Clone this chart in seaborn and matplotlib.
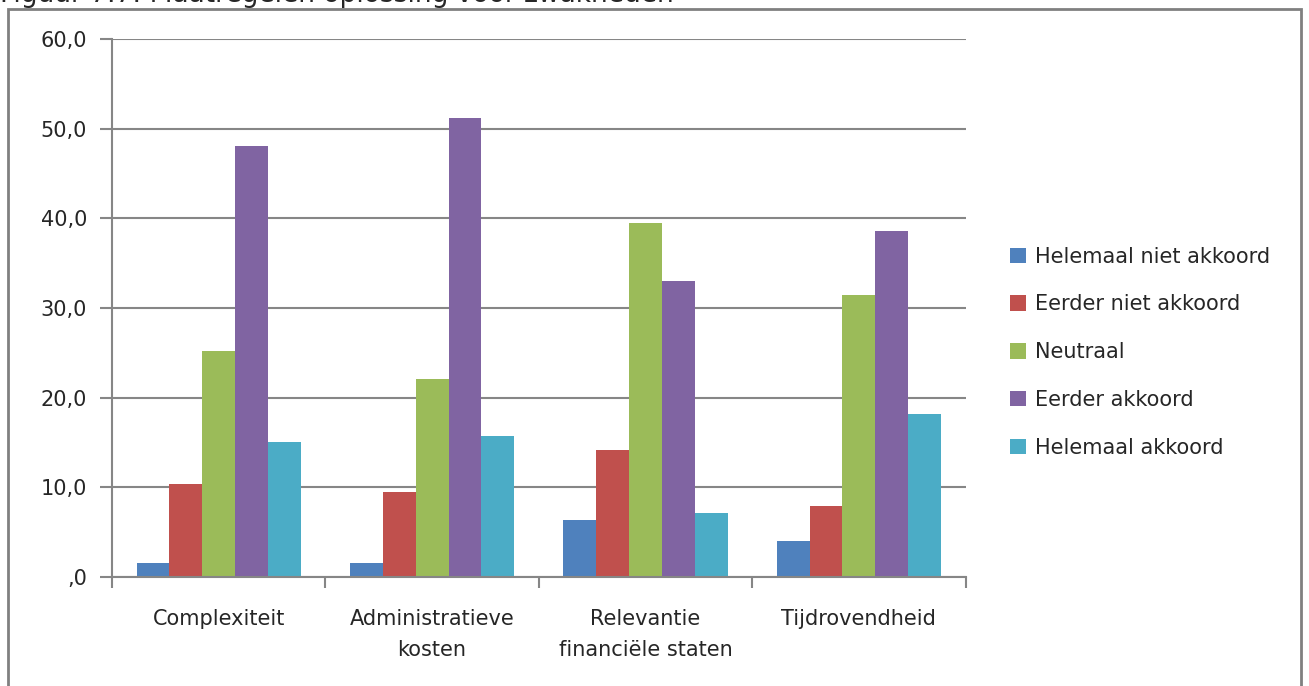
import pandas as pd
import matplotlib.pyplot as plt
import seaborn as sns
from matplotlib.patches import Rectangle

# Data (percentages)
categories = ['Complexiteit', 'Administratieve\nkosten', 'Relevantie\nfinanciële staten', 'Tijdrovendheid']
answers = ['Helemaal niet akkoord', 'Eerder niet akkoord', 'Neutraal', 'Eerder akkoord', 'Helemaal akkoord']
helemaal_niet = [1.6, 1.6, 6.4, 4.0]
eerder_niet = [10.4, 9.5, 14.2, 7.9]
neutraal = [25.2, 22.1, 39.5, 31.4]
eerder_akkoord = [48.1, 51.2, 33.0, 38.6]
helemaal_akkoord = [15.1, 15.7, 7.1, 18.2]
y_ticks = [0, 10, 20, 30, 40, 50, 60]
y_labels = [',0', '10,0', '20,0', '30,0', '40,0', '50,0', '60,0']
colors = ['#4f81bd', '#c0504d', '#9bbb59', '#8064a2', '#4bacc6']

rows = []
for answer, vals in zip(answers, [helemaal_niet, eerder_niet, neutraal, eerder_akkoord, helemaal_akkoord]):
    for cat, v in zip(categories, vals):
        rows.append({'Categorie': cat, 'Antwoord': answer, 'Percentage': v})
df = pd.DataFrame(rows)

sns.set_style('white')
plt.rcParams['font.family'] = ['DejaVu Sans']

fig = plt.figure(figsize=(13.09, 6.86), dpi=100)
ax = fig.add_axes([0.0856, 0.159, 0.652, 0.784])

sns.barplot(data=df, x='Categorie', y='Percentage', hue='Antwoord', palette=colors,
            width=0.77, gap=0, saturation=1, linewidth=0, edgecolor='none',
            ax=ax, legend=True)

grid_c = '#868686'
ax.set_ylim(0, 60)
ax.set_xlim(-0.5, 3.5)
ax.set_yticks(y_ticks)
ax.set_yticklabels(y_labels, fontsize=15)
ax.yaxis.grid(True, color=grid_c, linewidth=1.5)
ax.set_axisbelow(True)
ax.set_xlabel('')
ax.set_ylabel('')

# category ticks sit on the group boundaries
ax.set_xticks([-0.5, 0.5, 1.5, 2.5, 3.5], minor=False)
ax.set_xticklabels([])
ax.set_xticks([0, 1, 2, 3], minor=True)
ax.set_xticklabels(categories, minor=True, fontsize=15, linespacing=1.7)
ax.tick_params(axis='x', which='minor', length=0, pad=23)
ax.tick_params(axis='x', which='major', length=8, width=1.5, color=grid_c, direction='out', bottom=True)
ax.tick_params(axis='y', length=9, width=1.5, color=grid_c, direction='out', left=True, pad=9)

for side in ['top', 'right']:
    ax.spines[side].set_visible(False)
for side in ['left', 'bottom']:
    ax.spines[side].set_color(grid_c)
    ax.spines[side].set_linewidth(1.5)

leg = ax.legend(loc='center left', bbox_to_anchor=(1.03, 0.418), frameon=False,
                fontsize=15, handlelength=0.77, handleheight=0.77, labelspacing=1.33,
                handletextpad=0.45)

# outer chart frame and clipped caption above it
fig.patches.append(Rectangle((0.006, -0.05), 0.988, 1.037, transform=fig.transFigure,
                             fill=False, edgecolor='#808080', linewidth=2))
fig.text(0.0, 1.008, 'Figuur 7.7: Maatregelen oplossing voor zwakheden', fontsize=19,
         ha='left', va='center')

fig.savefig('out.png', dpi=100)
